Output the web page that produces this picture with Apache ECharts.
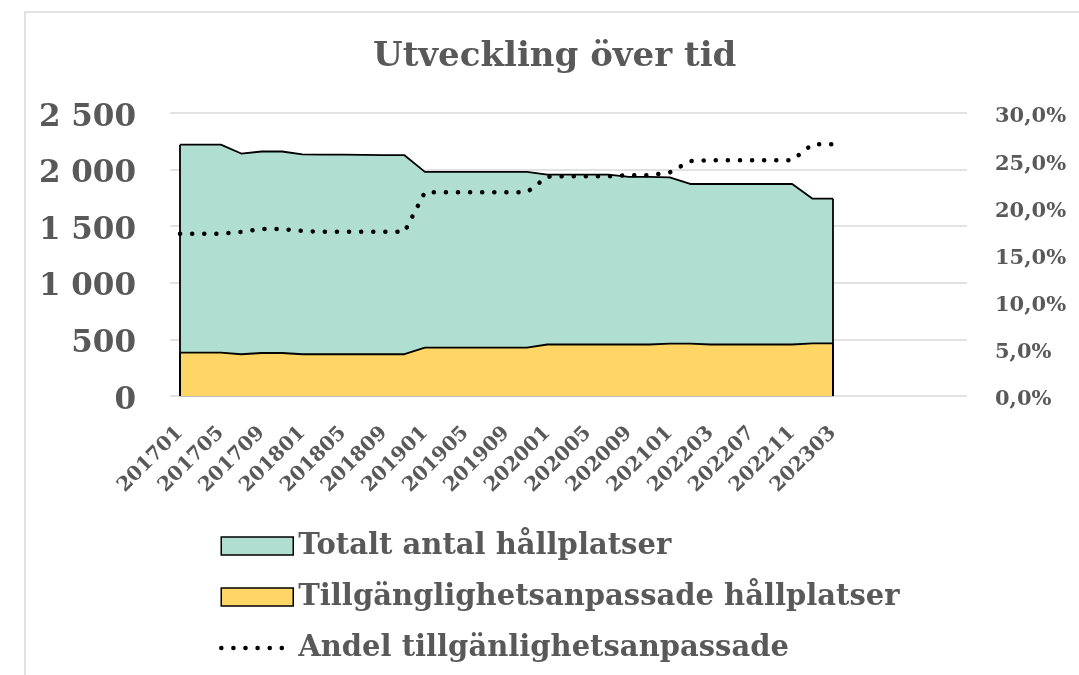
<!DOCTYPE html>
<html>
<head>
<meta charset="utf-8">
<script src="https://cdn.jsdelivr.net/npm/echarts@6/dist/echarts.min.js"></script>
<style>
  html, body { margin: 0; padding: 0; background: #fff; }
  #chart { width: 1079px; height: 675px; }
</style>
</head>
<body>
<div id="chart"></div>
<script>
const months = [
  '201701', '201703', '201705', '201707', '201709', '201711',
  '201801', '201803', '201805', '201807', '201809', '201811',
  '201901', '201903', '201905', '201907', '201909', '201911',
  '202001', '202003', '202005', '202007', '202009', '202011',
  '202101', '202201', '202203', '202205', '202207', '202209',
  '202211', '202301', '202303'
]

const totalStops = [
  2220, 2220, 2220, 2142, 2160, 2160, 2135, 2133, 2132, 2130, 2128, 2127,
  1980, 1980, 1980, 1980, 1980, 1980, 1955, 1955, 1955, 1955, 1935, 1935,
  1932, 1873, 1873, 1873, 1873, 1873, 1873, 1743, 1743
]

const accessibleStops = [
  383, 383, 383, 369, 380, 380, 369, 369, 369, 369, 369, 369,
  427, 427, 427, 427, 427, 427, 455, 455, 455, 455, 455, 455,
  462, 462, 455, 455, 455, 455, 455, 465, 465
]

const accessibleShare = [
  0.172, 0.172, 0.172, 0.174, 0.177, 0.177, 0.175, 0.174, 0.174, 0.174, 0.174, 0.174,
  0.216, 0.216, 0.216, 0.216, 0.216, 0.216, 0.2325, 0.233, 0.233, 0.233, 0.234, 0.234,
  0.237, 0.249, 0.250, 0.250, 0.250, 0.250, 0.250, 0.267, 0.267
]

const seriesNames = [
  'Totalt antal hållplatser',
  'Tillgänglighetsanpassade hållplatser',
  'Andel tillgänlighetsanpassade'
]

const font = 'DejaVu Serif'
const grey = '#595959'
const dotted = { color: '#000', width: 4.5, type: [0.1, 12], cap: 'round' }

function formatCount(v) {
  return '{t|' + String(v).replace(/\B(?=(\d{3})+(?!\d))/g, ' ') + '}'
}

function formatShare(v) {
  return '{t|' + (v * 100).toFixed(1).replace('.', ',') + '%}'
}

// vertical edges of the area outline, taken from the first and last points
function edgeLines(values) {
  const last = values.length - 1
  return {
    silent: true,
    symbol: 'none',
    label: { show: false },
    lineStyle: { color: '#000', width: 1.8, type: 'solid' },
    data: [
      [{ coord: [0, 0] }, { coord: [0, values[0]] }],
      [{ coord: [last, 0] }, { coord: [last, values[last]] }]
    ]
  }
}

const chart = echarts.init(document.getElementById('chart'))

chart.setOption({
  animation: false,
  backgroundColor: '#fff',
  graphic: [{
    type: 'rect',
    shape: { x: 25, y: 12, width: 1200, height: 800 },
    style: { fill: 'none', stroke: '#d9d9d9', lineWidth: 1.5 },
    silent: true
  }],
  title: {
    text: 'Utveckling över tid',
    left: 368,
    top: 35,
    textStyle: { fontFamily: font, fontWeight: 'bold', fontSize: 34, color: grey }
  },
  legend: {
    orient: 'vertical',
    left: 214,
    top: 525,
    itemWidth: 72,
    itemHeight: 18,
    itemGap: 19,
    textStyle: { fontFamily: font, fontWeight: 'bold', fontSize: 29, color: grey, lineHeight: 32 },
    data: [
      { name: seriesNames[0], icon: 'rect', itemStyle: { color: '#b0dfd1', borderColor: '#000', borderWidth: 1.5 } },
      { name: seriesNames[1], icon: 'rect', itemStyle: { color: '#ffd666', borderColor: '#000', borderWidth: 1.5 } },
      { name: seriesNames[2], itemStyle: { opacity: 0 }, lineStyle: dotted }
    ]
  },
  grid: [
    { left: 170, right: 112, top: 113, bottom: 279, containLabel: false, outerBoundsMode: 'none' },
    { left: 180, right: 246, top: 113, bottom: 279, containLabel: false, outerBoundsMode: 'none' }
  ],
  xAxis: [
    { gridIndex: 0, type: 'category', data: months, show: false },
    {
      gridIndex: 1,
      type: 'category',
      data: months,
      boundaryGap: false,
      axisLine: { lineStyle: { color: '#bfbfbf', width: 2 } },
      axisTick: { show: false },
      axisLabel: {
        interval: 1,
        rotate: 45,
        margin: 34,
        fontFamily: font,
        fontWeight: 'bold',
        fontSize: 20,
        color: grey
      }
    }
  ],
  yAxis: [
    {
      gridIndex: 0,
      type: 'value',
      min: 0,
      max: 2500,
      interval: 500,
      axisLine: { show: false },
      axisTick: { show: false },
      splitLine: { lineStyle: { color: '#d9d9d9', width: 1.5 } },
      axisLabel: {
        margin: 34,
        formatter: formatCount,
        rich: {
          t: { fontFamily: font, fontWeight: 'bold', fontSize: 31, color: grey, padding: [9, 0, 0, 0] }
        }
      }
    },
    {
      gridIndex: 1,
      type: 'value',
      min: 0,
      max: 2500,
      interval: 500,
      show: false
    },
    {
      gridIndex: 1,
      type: 'value',
      position: 'right',
      offset: 134,
      min: 0,
      max: 0.3,
      interval: 0.05,
      axisLine: { show: false },
      axisTick: { show: false },
      splitLine: { show: false },
      axisLabel: {
        margin: 28,
        formatter: formatShare,
        rich: {
          t: { fontFamily: font, fontWeight: 'bold', fontSize: 21, color: grey, padding: [8, 0, 0, 0] }
        }
      }
    }
  ],
  series: [
    {
      name: seriesNames[0],
      type: 'line',
      xAxisIndex: 1,
      yAxisIndex: 1,
      data: totalStops,
      symbol: 'none',
      itemStyle: { color: '#b0dfd1' },
      lineStyle: { color: '#000', width: 1.8 },
      areaStyle: { color: '#b0dfd1', opacity: 1 },
      markLine: edgeLines(totalStops),
      z: 2
    },
    {
      name: seriesNames[1],
      type: 'line',
      xAxisIndex: 1,
      yAxisIndex: 1,
      data: accessibleStops,
      symbol: 'none',
      itemStyle: { color: '#ffd666' },
      lineStyle: { color: '#000', width: 1.8 },
      areaStyle: { color: '#ffd666', opacity: 1 },
      markLine: edgeLines(accessibleStops),
      z: 3
    },
    {
      name: seriesNames[2],
      type: 'line',
      xAxisIndex: 1,
      yAxisIndex: 2,
      data: accessibleShare,
      symbol: 'none',
      itemStyle: { color: '#000' },
      lineStyle: dotted,
      z: 4
    }
  ]
})
</script>
</body>
</html>
